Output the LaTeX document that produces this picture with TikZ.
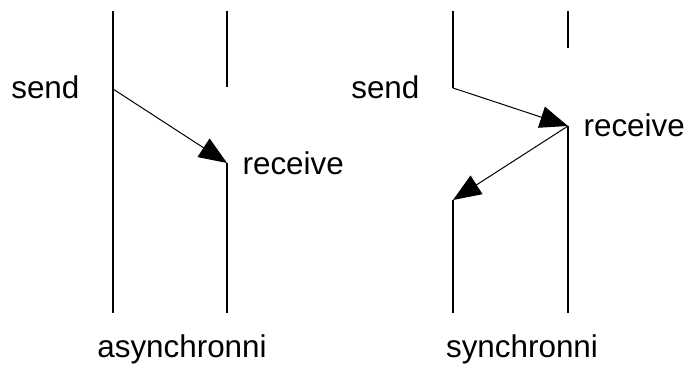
\documentclass[tikz,border=0pt]{standalone}
\usepackage{fontspec}
\setmainfont{Liberation Sans}
\usetikzlibrary{arrows.meta,positioning}

\begin{document}
\begin{tikzpicture}[x=0.5pt, y=-0.5pt, line width=0.6pt,
  lbl/.style={inner sep=0pt, font=\fontsize{15.7}{18}\selectfont},
  msg/.style={-{Triangle[length=14pt, width=11pt]}, line width=0.5pt}]
  \useasboundingbox (0,0) rectangle (699,367);

  % asynchronni
  \coordinate (atopA) at (113,11);
  \coordinate (asend) at (113,89);
  \coordinate (abotA) at (113,313);
  \coordinate (atopB) at (227,11);
  \coordinate (amidB) at (227,87);
  \coordinate (arecv) at (227,163);
  \coordinate (abotB) at (227,313);
  \draw (atopA) -- (abotA);
  \draw (atopB) -- (amidB);
  \draw (arecv) -- (abotB);
  \draw[msg] (asend) -- (arecv);
  \node[lbl, anchor=east] (asendlbl) at (80,87) {send};
  \node[lbl, anchor=west] (arecvlbl) at (242,163) {receive};
  \node[lbl] (async) at (182,349) {asynchronni};

  % synchronni
  \coordinate (stopA) at (453,11);
  \coordinate (ssend) at (453,88);
  \coordinate (sback) at (453,200);
  \coordinate (sbotA) at (453,313);
  \coordinate (stopB) at (568,11);
  \coordinate (smidB) at (568,48);
  \coordinate (srecv) at (568,126);
  \coordinate (sbotB) at (568,313);
  \draw (stopA) -- (ssend);
  \draw (sback) -- (sbotA);
  \draw (stopB) -- (smidB);
  \draw (srecv) -- (sbotB);
  \draw[msg] (ssend) -- (srecv);
  \draw[msg] (srecv) -- (sback);
  \node[lbl, anchor=east] (ssendlbl) at (420,87) {send};
  \node[lbl, anchor=west] (srecvlbl) at (583,125) {receive};
  \node[lbl] (sync) at (522,349) {synchronni};
\end{tikzpicture}
\end{document}
